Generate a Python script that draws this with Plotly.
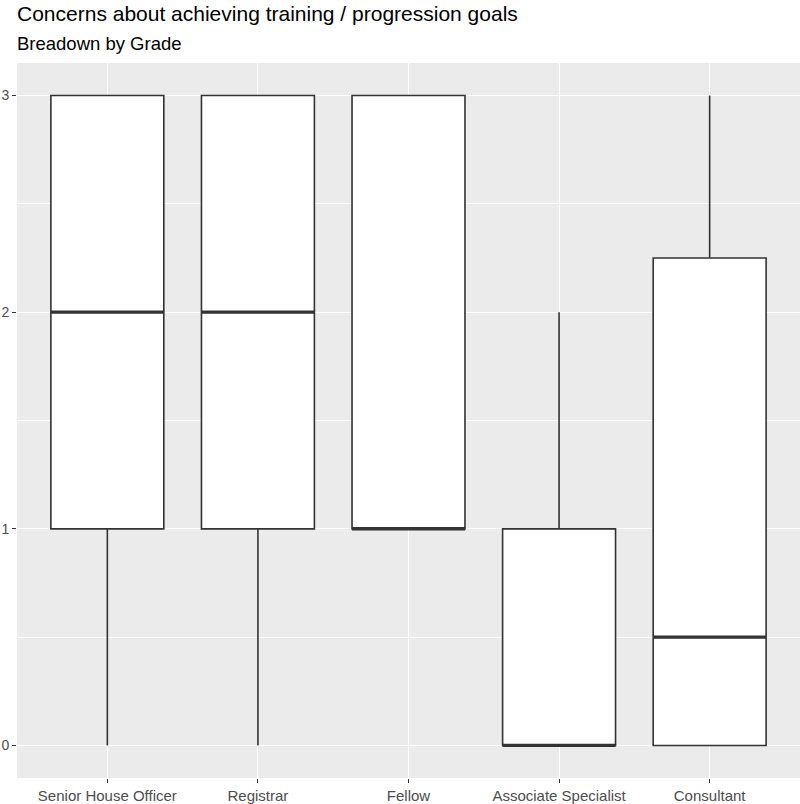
import plotly.graph_objects as go

grades = ["Senior House Officer", "Registrar", "Fellow", "Associate Specialist", "Consultant"]
lower = [0, 0, 1, 0, 0]
q1 = [1, 1, 1, 0, 0]
median = [2, 2, 1, 0, 0.5]
q3 = [3, 3, 3, 1, 2.25]
upper = [3, 3, 3, 2, 3]

fig = go.Figure()

# boxes
fig.add_trace(go.Box(
    x=grades, q1=q1, median=median, q3=q3,
    lowerfence=lower, upperfence=upper,
    width=0.75, whiskerwidth=0, boxpoints=False,
    fillcolor="white", line=dict(color="#333333", width=1.6),
    hoverinfo="skip", showlegend=False,
))
# thicker median line, as in ggplot
fig.add_trace(go.Box(
    x=grades, q1=median, median=median, q3=median,
    lowerfence=median, upperfence=median,
    width=0.75, whiskerwidth=0, boxpoints=False,
    fillcolor="rgba(0,0,0,0)", line=dict(color="#333333", width=3.2),
    hoverinfo="skip", showlegend=False,
))

fig.update_layout(
    width=800, height=804,
    margin=dict(l=17, r=0, t=63, b=26),
    paper_bgcolor="white", plot_bgcolor="#EBEBEB",
    font=dict(family="Liberation Sans, Arial, sans-serif", color="#4D4D4D", size=15),
    boxmode="overlay",
    showlegend=False,
    annotations=[
        dict(text="Concerns about achieving training / progression goals",
             xref="paper", yref="paper", x=-0.003, y=1.069, xanchor="left", yanchor="middle",
             showarrow=False, font=dict(size=21, color="black")),
        dict(text="Breadown by Grade",
             xref="paper", yref="paper", x=-0.003, y=1.0273, xanchor="left", yanchor="middle",
             showarrow=False, font=dict(size=18.5, color="black")),
    ],
)
fig.update_xaxes(
    type="category", range=[-0.6, 4.6],
    showgrid=True, gridcolor="white", gridwidth=1.4,
    ticks="outside", ticklen=4, tickcolor="#333333", tickwidth=1.3,
    tickfont=dict(size=15, color="#4D4D4D"),
    zeroline=False, showline=False, fixedrange=True,
)
fig.update_yaxes(
    range=[-0.15, 3.15], tick0=0, dtick=1,
    showgrid=True, gridcolor="white", gridwidth=1.4,
    minor=dict(dtick=0.5, showgrid=True, gridcolor="white", gridwidth=0.6),
    ticks="outside", ticklen=4, tickcolor="#333333", tickwidth=1.3,
    tickfont=dict(size=14, color="#4D4D4D"),
    zeroline=False, showline=False, fixedrange=True,
)

fig.write_html("out.html", config={"displayModeBar": False},
               post_script="document.body.style.margin='0';")
